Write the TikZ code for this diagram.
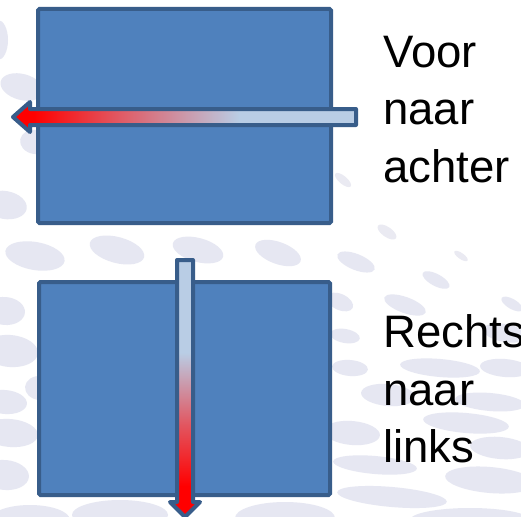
\documentclass[tikz,border=0pt]{standalone}
\usepackage{fontspec}
\setmainfont{Liberation Sans}
\definecolor{boxfill}{HTML}{4F81BD}
\definecolor{boxline}{HTML}{385D8A}
\definecolor{pale}{HTML}{B9CDE5}
\definecolor{lav}{HTML}{E6E7F2}
\definecolor{lavlight}{HTML}{EAEAF2}
% red-to-pale gradients for the two block arrows
\pgfdeclarehorizontalshading{flowh}{100bp}{color(0bp)=(red); color(28bp)=(red); color(40bp)=(red!58!pale); color(58bp)=(pale); color(100bp)=(pale)}
\pgfdeclareverticalshading{flowv}{100bp}{color(0bp)=(red); color(31bp)=(red); color(43bp)=(red!58!pale); color(57bp)=(pale); color(100bp)=(pale)}
\tikzset{
  box/.style={draw=boxline, fill=boxfill, line width=4pt, rounded corners=1.5pt, inner sep=0pt},
  blockarrow/.style={draw=boxline, line width=4pt, line join=round},
  caption/.style={anchor=north west, inner sep=0pt, align=left, text=black,
    font=\fontsize{45.5}{57.5}\selectfont},
}
\begin{document}
\begin{tikzpicture}[x=1pt, y=1pt]
  \fill[white] (0,0) rectangle (521,-516);
  \useasboundingbox (0,0) rectangle (521,-516);

  % faint background pattern
  \foreach \cx/\cy/\ra/\rb/\rt in {
    -2/40/10/20/0, 22/87/22/13/15, 35/142/15/12/10, 5/205/22/14/10,
    35/256/30/14/10, 117/250/28/13/15, 198/250/26/12/15, 278/253/24/11/20,
    356/262/20/8/22, 436/280/15/6/28, 512/304/12/5/30, 340/302/14/8/25,
    405/305/22/8/20, 345/336/15/7/10, 505/333/22/9/10, 350/368/18/8/5,
    440/368/40/9/5, 505/368/25/9/5, 388/395/27/11/5, 490/402/35/9/5,
    466/423/43/10/5, 352/433/28/12/5, 500/448/30/11/5, 375/465/42/9/5,
    490/480/45/13/5, 392/497/55/10/5, 470/520/60/12/0,
    5/311/20/14/5, 10/351/28/16/5, 40/388/15/12/5, 5/402/22/12/5,
    10/433/28/14/5, 5/475/24/15/5, 30/520/40/15/0, 120/515/48/15/0,
    285/518/50/16/0}
  {
    \fill[lav, rotate around={-\rt:(\cx,-\cy)}] (\cx,-\cy) ellipse [x radius=\ra, y radius=\rb];
  }
  \foreach \cx/\cy/\ra/\rb/\rt in {
    387/232/11/5/35, 461/256/8/3/35, 343/180/10/4/40}
  {
    \fill[lavlight, rotate around={-\rt:(\cx,-\cy)}] (\cx,-\cy) ellipse [x radius=\ra, y radius=\rb];
  }

  % upper block with front-to-back arrow
  \node[box, minimum width=293pt, minimum height=214pt] (upper) at (184.5,-116) {};
  \draw[blockarrow, shade, shading=flowh]
    (356,-109) -- (30,-109) -- (30,-102) -- (13,-117) -- (30,-132)
    -- (30,-125) -- (356,-125) -- cycle;
  \node[caption] (front) at (383,-35.5) {Voor\\naar\\achter};

  % lower block with right-to-left arrow
  \node[box, minimum width=291pt, minimum height=213pt] (lower) at (184.5,-388.5) {};
  \draw[blockarrow, shade, shading=flowv]
    (177,-260) -- (177,-502) -- (170,-502) -- (185,-517) -- (200,-502)
    -- (193,-502) -- (193,-260) -- cycle;
  \node[caption] (side) at (383,-314.5) {Rechts\\naar\\links};
\end{tikzpicture}
\end{document}
